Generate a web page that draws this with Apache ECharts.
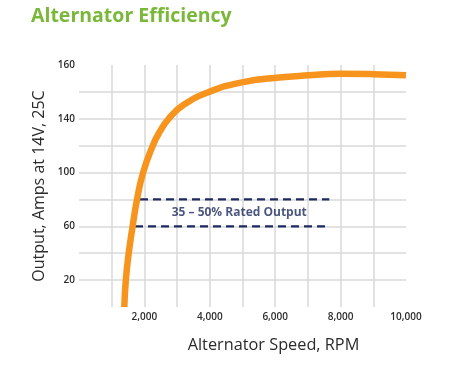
<!DOCTYPE html>
<html>
<head>
<meta charset="utf-8">
<script src="https://cdn.jsdelivr.net/npm/echarts@6/dist/echarts.min.js"></script>
<style>
html,body{margin:0;padding:0;background:#fff;}
#c{width:450px;height:366px;}
</style>
</head>
<body>
<div id="c"></div>
<script>
// Curve: alternator speed (RPM) vs output (amps, in grid units)
var speedRpm = [1385, 1432, 1520, 1640, 1775, 1960, 2255, 2460, 2740, 3180, 3980, 5024, 6046, 7012, 7982, 9000, 10000];
var outputAmps = [0, 20, 40, 60, 80, 100, 120, 130, 140, 150, 160, 167.3, 170.5, 172.3, 173.5, 173.2, 172.4];

// Rated-output band (dashed lines)
var bandLevels = [80, 60];
var bandStart = [1865, 1713];
var bandEnd = [7654, 7654];
var bandLabel = '35 – 50% Rated Output';
var bandLabelPos = [4900, 70];

// Tick labels
var xTickValues = [2000, 4000, 6000, 8000, 10000];
var xTickLabels = ['2,000', '4,000', '6,000', '8,000', '10,000'];
var yTickValues = [20, 60, 100, 140, 180];
var yTickLabels = ['20', '60', '100', '140', '160'];

var curveData = speedRpm.map(function (s, i) { return [s, outputAmps[i]]; });

var series = [{
  type: 'line',
  data: curveData,
  smooth: 0.5,
  showSymbol: false,
  lineStyle: { color: '#f7941d', width: 6.5, cap: 'butt', join: 'round' },
  z: 5,
  silent: true
}];

bandLevels.forEach(function (lv, i) {
  series.push({
    type: 'line',
    data: [[bandStart[i], lv], [bandEnd[i], lv]],
    showSymbol: false,
    lineStyle: { color: '#1d2a5e', width: 2.2, type: [8, 5] },
    z: 4,
    silent: true
  });
});

series.push({
  type: 'scatter',
  data: [bandLabelPos],
  symbolSize: 0,
  silent: true,
  label: {
    show: true,
    position: 'inside',
    formatter: bandLabel,
    color: '#1d2a5e',
    fontFamily: 'Open Sans',
    fontWeight: 'bold',
    fontSize: 12
  }
});

var chart = echarts.init(document.getElementById('c'), null, { renderer: 'canvas' });
chart.setOption({
  animation: false,
  backgroundColor: '#ffffff',
  title: {
    text: 'Alternator Efficiency',
    left: 31,
    top: 6,
    padding: 0,
    textStyle: { color: '#7ab83a', fontFamily: 'Open Sans', fontWeight: 'bold', fontSize: 19.5 }
  },
  grid: { left: 79, right: 44, top: 65, bottom: 59 },
  xAxis: {
    type: 'value',
    min: 0,
    max: 10000,
    interval: 1000,
    name: 'Alternator Speed, RPM',
    nameLocation: 'middle',
    nameGap: 30,
    nameTextStyle: { fontFamily: 'Open Sans', fontSize: 16.3, color: '#2b2b2b', verticalAlign: 'top', padding: [0, 0, 0, 62] },
    axisLine: { show: false },
    axisTick: { show: false },
    axisLabel: {
      margin: 5,
      fontFamily: 'Open Sans',
      fontSize: 10,
      fontWeight: 600,
      color: '#2b2b2b',
      showMinLabel: false,
      formatter: function (v) {
        var i = xTickValues.indexOf(v);
        return i >= 0 ? xTickLabels[i] : '';
      }
    },
    splitLine: { show: true, showMinLine: false, showMaxLine: false, lineStyle: { color: '#d9d9d9', width: 1.5 } }
  },
  yAxis: {
    type: 'value',
    min: 0,
    max: 180,
    interval: 20,
    name: 'Output, Amps at 14V, 25C',
    nameLocation: 'middle',
    nameGap: 32,
    nameTextStyle: { fontFamily: 'Open Sans', fontSize: 16, color: '#2b2b2b' },
    axisLine: { show: false },
    axisTick: { show: false },
    axisLabel: {
      margin: 4,
      fontFamily: 'Open Sans',
      fontSize: 10,
      fontWeight: 600,
      color: '#2b2b2b',
      formatter: function (v) {
        var i = yTickValues.indexOf(v);
        return i >= 0 ? yTickLabels[i] : '';
      }
    },
    splitLine: { show: true, showMinLine: false, showMaxLine: false, lineStyle: { color: '#d9d9d9', width: 1.5 } }
  },
  series: series
});
</script>
</body>
</html>
